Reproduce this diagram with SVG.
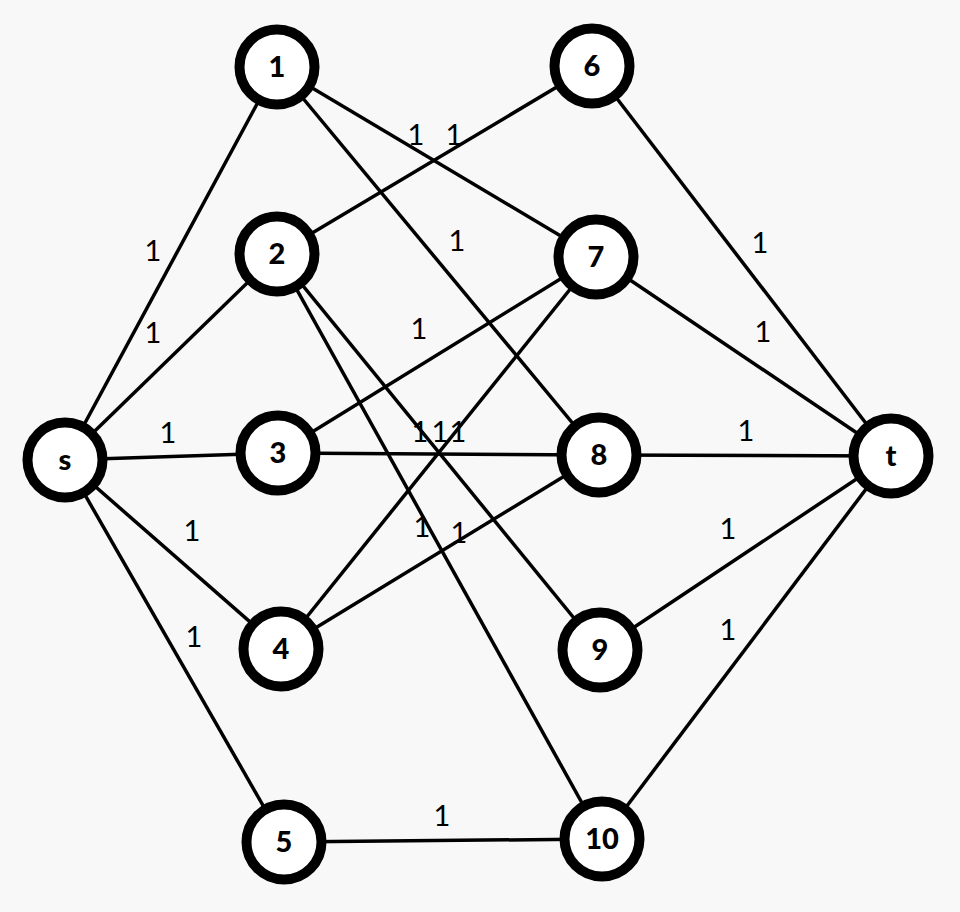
<svg xmlns="http://www.w3.org/2000/svg" width="960" height="912" viewBox="0 0 960 912">
<style>
.e{stroke:#000;stroke-width:3.5;fill:none}
.n circle{fill:#fff;stroke:#000;stroke-width:10}
.n text{font-family:Lato,"Liberation Sans",sans-serif;font-weight:900;font-size:29px;text-anchor:middle;fill:#000}
.l{font-family:Lato,"Liberation Sans",sans-serif;font-size:29px;text-anchor:middle;fill:#000}
</style>
<rect width="960" height="912" fill="#f8f8f8"/>
<g id="connectors">
<line class="e" x1="65" y1="460" x2="277" y2="67"/>
<line class="e" x1="65" y1="460" x2="277" y2="254"/>
<line class="e" x1="65" y1="460" x2="278" y2="453"/>
<line class="e" x1="65" y1="460" x2="281" y2="649"/>
<line class="e" x1="65" y1="460" x2="284" y2="842"/>
<line class="e" x1="277" y1="67" x2="596" y2="257"/>
<line class="e" x1="277" y1="67" x2="599" y2="455"/>
<line class="e" x1="277" y1="254" x2="592" y2="66"/>
<line class="e" x1="277" y1="254" x2="600" y2="650"/>
<line class="e" x1="277" y1="254" x2="602" y2="839"/>
<line class="e" x1="278" y1="453" x2="596" y2="257"/>
<line class="e" x1="278" y1="453" x2="599" y2="455"/>
<line class="e" x1="281" y1="649" x2="596" y2="257"/>
<line class="e" x1="281" y1="649" x2="599" y2="455"/>
<line class="e" x1="284" y1="842" x2="602" y2="839"/>
<line class="e" x1="592" y1="66" x2="891" y2="456"/>
<line class="e" x1="596" y1="257" x2="891" y2="456"/>
<line class="e" x1="599" y1="455" x2="891" y2="456"/>
<line class="e" x1="600" y1="650" x2="891" y2="456"/>
<line class="e" x1="602" y1="839" x2="891" y2="456"/>
</g>
<g id="labels">
<text class="l" x="153" y="261">1</text>
<text class="l" x="153" y="343">1</text>
<text class="l" x="168" y="443">1</text>
<text class="l" x="192" y="541">1</text>
<text class="l" x="194" y="647">1</text>
<text class="l" x="416" y="145">1</text>
<text class="l" x="454" y="145">1</text>
<text class="l" x="457" y="251">1</text>
<text class="l" x="419" y="339">1</text>
<text class="l" x="420" y="442">1</text>
<text class="l" x="440" y="442">1</text>
<text class="l" x="458" y="442">1</text>
<text class="l" x="422" y="537">1</text>
<text class="l" x="459" y="543">1</text>
<text class="l" x="442" y="826">1</text>
<text class="l" x="760" y="253">1</text>
<text class="l" x="763" y="342">1</text>
<text class="l" x="746" y="441">1</text>
<text class="l" x="728" y="539">1</text>
<text class="l" x="728" y="640">1</text>
</g>
<g id="node-s" class="n"><circle cx="65" cy="460" r="37.5"/><text x="65" y="470">s</text></g>
<g id="node-1" class="n"><circle cx="277" cy="67" r="37.5"/><text x="277" y="77">1</text></g>
<g id="node-2" class="n"><circle cx="277" cy="254" r="37.5"/><text x="277" y="264">2</text></g>
<g id="node-3" class="n"><circle cx="278" cy="453" r="37.5"/><text x="278" y="463">3</text></g>
<g id="node-4" class="n"><circle cx="281" cy="649" r="37.5"/><text x="281" y="659">4</text></g>
<g id="node-5" class="n"><circle cx="284" cy="842" r="37.5"/><text x="284" y="852">5</text></g>
<g id="node-6" class="n"><circle cx="592" cy="66" r="37.5"/><text x="592" y="76">6</text></g>
<g id="node-7" class="n"><circle cx="596" cy="257" r="37.5"/><text x="596" y="267">7</text></g>
<g id="node-8" class="n"><circle cx="599" cy="455" r="37.5"/><text x="599" y="465">8</text></g>
<g id="node-9" class="n"><circle cx="600" cy="650" r="37.5"/><text x="600" y="660">9</text></g>
<g id="node-10" class="n"><circle cx="602" cy="839" r="37.5"/><text x="602" y="849">10</text></g>
<g id="node-t" class="n"><circle cx="891" cy="456" r="37.5"/><text x="891" y="466">t</text></g>
</svg>
